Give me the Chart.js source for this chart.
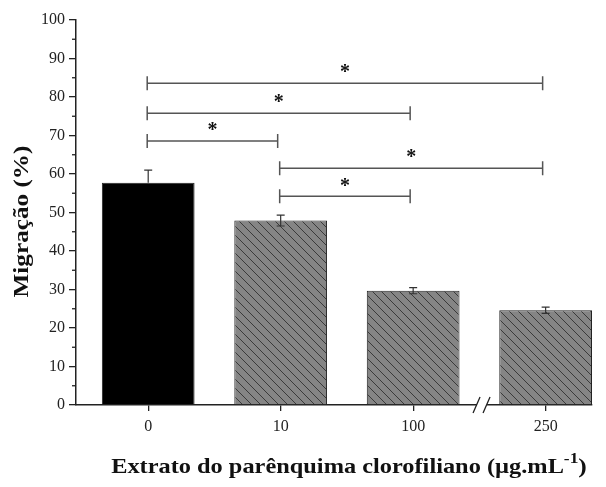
<!DOCTYPE html>
<html>
<head>
<meta charset="utf-8">
<script src="https://cdn.jsdelivr.net/npm/chart.js@4/dist/chart.umd.min.js"></script>
<style>
  body { margin: 0; background: #fff; }
  #wrap { width: 606px; height: 487px; }
</style>
</head>
<body>
<div id="wrap"><canvas id="graf"></canvas></div>
<script>
// data
let KATEGORIE = ['0', '10', '100', '250'];
let MIGRACE = [57.7, 47.9, 29.7, 24.6];
let CHYBY = [3.3, 1.4, 0.8, 0.8];
// significance brackets: from index, to index, level (%)
let OD = [0, 0, 0, 1, 1];
let DO = [3, 2, 1, 3, 2];
let UROVEN = [83.6, 75.8, 68.6, 61.5, 54.2];

let NAZEV_X = 'Extrato do parênquima clorofiliano (µg.mL';
let NAZEV_Y = 'Migração (%)';

// hatched fill for the extract bars
let vzor = document.createElement('canvas');
vzor.width = 9;
vzor.height = 9;
let vc = vzor.getContext('2d');
vc.fillStyle = '#858585';
vc.fillRect(0, 0, 9, 9);
vc.strokeStyle = '#3a3a3a';
vc.lineWidth = 1;
vc.beginPath();
vc.moveTo(-1, -1); vc.lineTo(10, 10);
vc.moveTo(-1, 8); vc.lineTo(1, 10);
vc.moveTo(8, -1); vc.lineTo(10, 1);
vc.stroke();
let ctx = document.getElementById('graf').getContext('2d');
let srafy = ctx.createPattern(vzor, 'repeat');

let barvy = MIGRACE.map((_, i) => i === 0 ? '#000000' : srafy);

let doplnky = {
    id: 'doplnky',
    afterDatasetsDraw(chart) {
        let c = chart.ctx;
        let x = chart.scales.x;
        let y = chart.scales.y;
        c.save();
        // error bars
        c.strokeStyle = '#333';
        c.lineWidth = 1.2;
        MIGRACE.forEach((v, i) => {
            let px = x.getPixelForValue(i);
            let top = y.getPixelForValue(v + CHYBY[i]);
            let bot = y.getPixelForValue(v - CHYBY[i]);
            c.beginPath();
            c.moveTo(px, top); c.lineTo(px, i === 0 ? y.getPixelForValue(v) : bot);
            c.moveTo(px - 4, top); c.lineTo(px + 4, top);
            if (i > 0) { c.moveTo(px - 4, bot); c.lineTo(px + 4, bot); }
            c.stroke();
        });
        // significance brackets
        c.strokeStyle = '#555';
        c.lineWidth = 1.5;
        c.fillStyle = '#111';
        c.font = 'bold 20px "Liberation Serif"';
        c.textAlign = 'center';
        c.textBaseline = 'middle';
        OD.forEach((a, i) => {
            let x1 = x.getPixelForValue(a) - 1;
            let x2 = x.getPixelForValue(DO[i]) - 3;
            let py = y.getPixelForValue(UROVEN[i]);
            c.beginPath();
            c.moveTo(x1, py); c.lineTo(x2, py);
            c.moveTo(x1, py - 7); c.lineTo(x1, py + 7);
            c.moveTo(x2, py - 7); c.lineTo(x2, py + 7);
            c.stroke();
            c.fillText('*', (x1 + x2) / 2, py - 10);
        });
        // axis break between 100 and 250
        let bx = x.getPixelForValue(2.52);
        let by = y.getPixelForValue(0);
        c.fillStyle = '#fff';
        c.fillRect(bx - 5, by - 2, 10, 4);
        c.strokeStyle = '#222';
        c.lineWidth = 1.3;
        c.beginPath();
        c.moveTo(bx - 9, by + 8); c.lineTo(bx - 2, by - 8);
        c.moveTo(bx + 1, by + 8); c.lineTo(bx + 8, by - 8);
        c.stroke();
        // minor ticks on y
        c.strokeStyle = '#222';
        c.lineWidth = 1.3;
        for (let t = 5; t < 100; t += 10) {
            let py = y.getPixelForValue(t);
            c.beginPath();
            c.moveTo(y.right - 4, py); c.lineTo(y.right, py);
            c.stroke();
        }
        c.restore();
    },
    afterDraw(chart) {
        // axis titles: wide bold serif (stretched), with a real superscript
        let c = chart.ctx;
        let a = chart.chartArea;
        c.save();
        c.fillStyle = '#111';
        c.textBaseline = 'alphabetic';
        c.textAlign = 'left';
        let roztah = 1.16;
        c.font = 'bold 21px "Liberation Serif"';
        let w1 = c.measureText(NAZEV_X).width;
        c.font = 'bold 15px "Liberation Serif"';
        let w2 = c.measureText('-1').width;
        c.font = 'bold 22px "Liberation Serif"';
        let w3 = c.measureText(')').width;
        let stred = (a.left + a.right) / 2 + 15;
        c.save();
        c.translate(stred, 473);
        c.scale(roztah, 1);
        let sx = -(w1 + w2 + w3) / 2;
        c.font = 'bold 21px "Liberation Serif"';
        c.fillText(NAZEV_X, sx, 0);
        c.font = 'bold 15px "Liberation Serif"';
        c.fillText('-1', sx + w1, -10);
        c.font = 'bold 22px "Liberation Serif"';
        c.fillText(')', sx + w1 + w2, 0);
        c.restore();
        // y title
        c.font = 'bold 21px "Liberation Serif"';
        c.textAlign = 'center';
        c.translate(28, (a.top + a.bottom) / 2 + 9);
        c.rotate(-Math.PI / 2);
        c.scale(1.2, 1);
        c.fillText(NAZEV_Y, 0, 0);
        c.restore();
    }
};

new Chart(ctx, {
    type: 'bar',
    data: {
        datasets: [{
            label: 'Migração',
            data: MIGRACE.map((v, i) => ({ x: i, y: v })),
            backgroundColor: barvy,
            borderColor: '#222',
            borderWidth: 1,
            categoryPercentage: 1,
            barPercentage: 0.7
        }]
    },
    options: {
        responsive: true,
        maintainAspectRatio: false,
        animation: false,
        layout: { padding: { top: 20, right: 14, left: 0, bottom: 0 } },
        plugins: { legend: { display: false }, tooltip: { enabled: false } },
        scales: {
            x: {
                type: 'linear',
                offset: false,
                min: -0.545,
                max: 3.35,
                afterFit: s => { s.height = 82; },
                ticks: {
                    stepSize: 1,
                    includeBounds: false,
                    color: '#222',
                    padding: 6,
                    font: { family: 'Liberation Serif', size: 16 },
                    callback: v => KATEGORIE[v] ?? ''
                },
                grid: { offset: false, drawOnChartArea: false, tickLength: 6, color: '#222', lineWidth: 1.3 },
                border: { color: '#222', width: 1.5 }
            },
            y: {
                min: 0,
                max: 100,
                afterFit: s => { s.width = 76; },
                ticks: {
                    stepSize: 10,
                    color: '#222',
                    padding: 4,
                    font: { family: 'Liberation Serif', size: 16 }
                },
                grid: { drawOnChartArea: false, tickLength: 7, color: '#222', lineWidth: 1.3 },
                border: { color: '#222', width: 1.5 }
            }
        }
    },
    plugins: [doplnky]
});
</script>
</body>
</html>
